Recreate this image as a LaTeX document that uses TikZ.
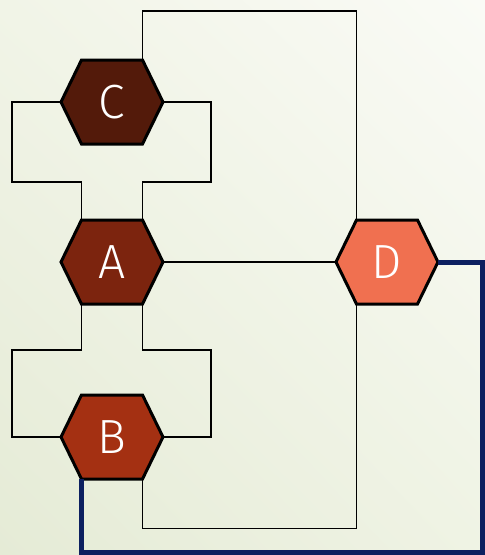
\documentclass[tikz,border=0pt]{standalone}
\usepackage{fontspec}
\usepackage{tikz}
\usepackage{xcolor}
\usetikzlibrary{shadings}
\newfontfamily\hexfont{Fira Sans Light}
\definecolor{cellC}{RGB}{83,26,10}
\definecolor{cellA}{RGB}{124,36,14}
\definecolor{cellB}{RGB}{164,48,18}
\definecolor{cellD}{RGB}{240,112,80}
\definecolor{navy}{RGB}{12,32,96}
\definecolor{bgUL}{RGB}{241,244,231}
\definecolor{bgUR}{RGB}{250,251,246}
\definecolor{bgLL}{RGB}{229,235,214}
\definecolor{bgLR}{RGB}{239,243,228}
\tikzstyle{hex} = [minimum width = 61pt, minimum height = 84pt, inner sep = 0pt, text = white, font = \hexfont\fontsize{48}{48}\selectfont]
\tikzstyle{hexline} = [draw = black, line width = 3pt, line join = miter]
\tikzstyle{wire} = [draw = black, line width = 1.4pt]
\tikzstyle{bus} = [draw = navy, line width = 5pt, line join = miter]

% hexagonal cell: name, centre, fill colour, label
\newcommand{\hexcell}[4]{%
  \filldraw [hexline, fill = #3] #2 ++(-51,0) coordinate (#1-l) -- ++(20.5,-42) -- ++(61,0)
    -- ++(20.5,42) coordinate (#1-r) -- ++(-20.5,42) -- ++(-61,0) -- cycle;
  \node (#1) at #2 [hex] {#4};
}

\begin{document}
\begin{tikzpicture}[x = 1pt, y = -1pt]
            \useasboundingbox (0,0) rectangle (485,555);
            \shade [upper left = bgUL, upper right = bgUR, lower left = bgLL, lower right = bgLR] (0,0) rectangle (485,555);
            \hexcell{C}{(112,102)}{cellC}{C}
            \hexcell{A}{(112,262)}{cellA}{A}
            \hexcell{B}{(112,437)}{cellB}{B}
            \hexcell{D}{(387,262)}{cellD}{D}
            \draw [wire] (C.north east) -- ++(0,-49) -| (D.north west);
            \draw [wire] (C-l) -| (12,182) -| (A.north west);
            \draw [wire] (C-r) -| (211,182) -| (A.north east);
            \draw [wire] (A-r) -- (D-l);
            \draw [wire] (A.south west) |- (12,350) |- (B-l);
            \draw [wire] (A.south east) |- (211,350) |- (B-r);
            \draw [wire] (B.south east) -- ++(0,49) -| (D.south west);
            \draw [bus] (B.south west) |- (482.5,552.5) |- (D-r);
        \end{tikzpicture}
\end{document}
